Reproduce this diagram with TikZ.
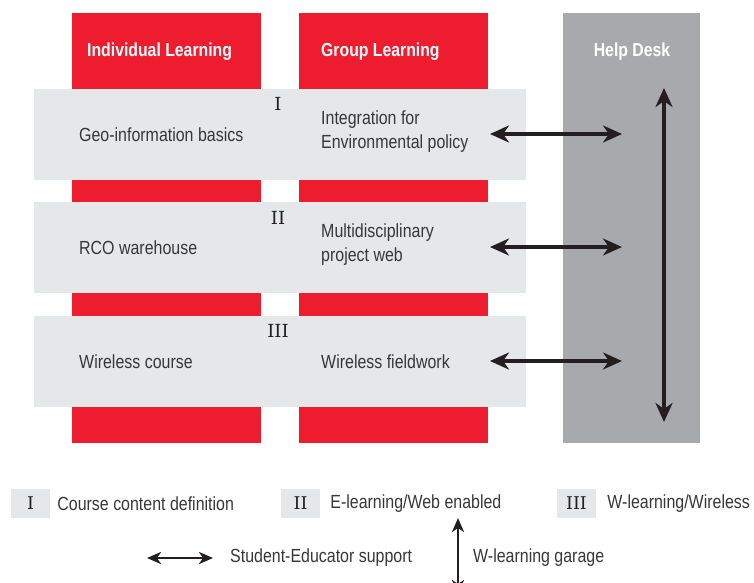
\documentclass[tikz,border=0pt]{standalone}
\usepackage{fontspec}
\setsansfont{Liberation Sans}[FakeStretch=0.84]
\newfontfamily\numfont{DejaVu Serif}
\usetikzlibrary{arrows.meta,positioning}
\definecolor{colred}{RGB}{237,28,46}
\definecolor{bandgray}{RGB}{230,231,232}
\definecolor{deskgray}{RGB}{167,169,172}
\definecolor{txtgray}{RGB}{55,55,57}
\definecolor{arrowblack}{RGB}{35,31,32}

\begin{document}
\begin{tikzpicture}[x=1pt,y=-1pt,
		font=\sffamily\fontsize{19}{24}\selectfont,
		column/.style={fill=colred,minimum width=189pt,minimum height=430pt,inner sep=0pt},
		band/.style={fill=bandgray,minimum width=492pt,minimum height=91pt,inner sep=0pt},
		head/.style={text=white,font=\sffamily\bfseries\fontsize{18.8}{22}\selectfont,inner sep=0pt},
		item/.style={anchor=west,text=txtgray,align=left,inner sep=0pt},
		numeral/.style={text=arrowblack,font=\numfont\fontsize{18}{22}\selectfont,inner sep=0pt},
		keybox/.style={fill=bandgray,minimum width=39pt,minimum height=29pt,inner sep=0pt,
			text=arrowblack,font=\numfont\fontsize{17.5}{22}\selectfont},
		link/.style={arrowblack,line width=3.5pt,{Stealth[length=19pt,width=17pt,inset=6pt]}-{Stealth[length=19pt,width=17pt,inset=6pt]}},
		keylink/.style={arrowblack,line width=2.8pt,{Stealth[length=14pt,width=12pt,inset=4pt]}-{Stealth[length=14pt,width=12pt,inset=4pt]}}]
		\useasboundingbox (0,0) rectangle (754,582);
		% columns
		\node[column] (indiv) at (166.5,228) {};
		\node[column] (group) at (393.5,228) {};
		\node[fill=deskgray,minimum width=137pt,minimum height=430pt,inner sep=0pt] (desk) at (631.5,228) {};
		% rows
		\node[band] (row1) at (280,134.5) {};
		\node[band] (row2) at (280,247.5) {};
		\node[band] (row3) at (280,361.5) {};
		
		\node[head,anchor=west] (hindiv) at (87,52) {Individual Learning};
		\node[head,anchor=west] (hgroup) at (321,52) {Group Learning};
		\node[head] (hdesk) at (632,52) {Help Desk};
		
		\node[numeral] (n1) at (278,104) {I};
		\node[numeral] (n2) at (278,218) {II};
		\node[numeral] (n3) at (278,331) {III};
		
		\node[item] (geo) at (79,135) {Geo-information basics};
		\node[item] (rco) at (79,248) {RCO warehouse};
		\node[item] (wcourse) at (79,362) {Wireless course};
		\node[item] (integ) at (321,132) {Integration for\\Environmental policy};
		\node[item] (multi) at (321,245) {Multidisciplinary\\project web};
		\node[item] (wfield) at (321,362) {Wireless fieldwork};
		
		\coordinate (a1) at (490,134);
		\coordinate (b1) at (622,134);
		\coordinate (a2) at (490,247);
		\coordinate (b2) at (622,247);
		\coordinate (a3) at (490,361);
		\coordinate (b3) at (622,361);
		\coordinate (top) at (664,88);
		\coordinate (bottom) at (664,422);
		\draw[link] (a1) -- (b1);
		\draw[link] (a2) -- (b2);
		\draw[link] (a3) -- (b3);
		\draw[link] (top) -- (bottom);
		% legend
		\node[keybox] (k1) at (30.5,503.5) {I};
		\node[keybox] (k2) at (300.5,503.5) {II};
		\node[keybox] (k3) at (576.5,503.5) {III};
		\node[item] (l1) [right=7pt of k1] {Course content definition};
		\node[item] (l2) [right=10pt of k2] {E-learning/Web enabled};
		\node[item] (l3) [right=11pt of k3] {W-learning/Wireless};
		
		\coordinate (s1) at (147,558);
		\coordinate (s2) at (213,558);
		\node[item] (lsupport) at (230,558) {Student-Educator support};
		\coordinate (g1) at (458,518);
		\coordinate (g2) at (458,594);
		\node[item] (lgarage) at (473,558) {W-learning garage};
		\draw[keylink] (s1) -- (s2);
		\draw[keylink] (g1) -- (g2);
\end{tikzpicture}
\end{document}
